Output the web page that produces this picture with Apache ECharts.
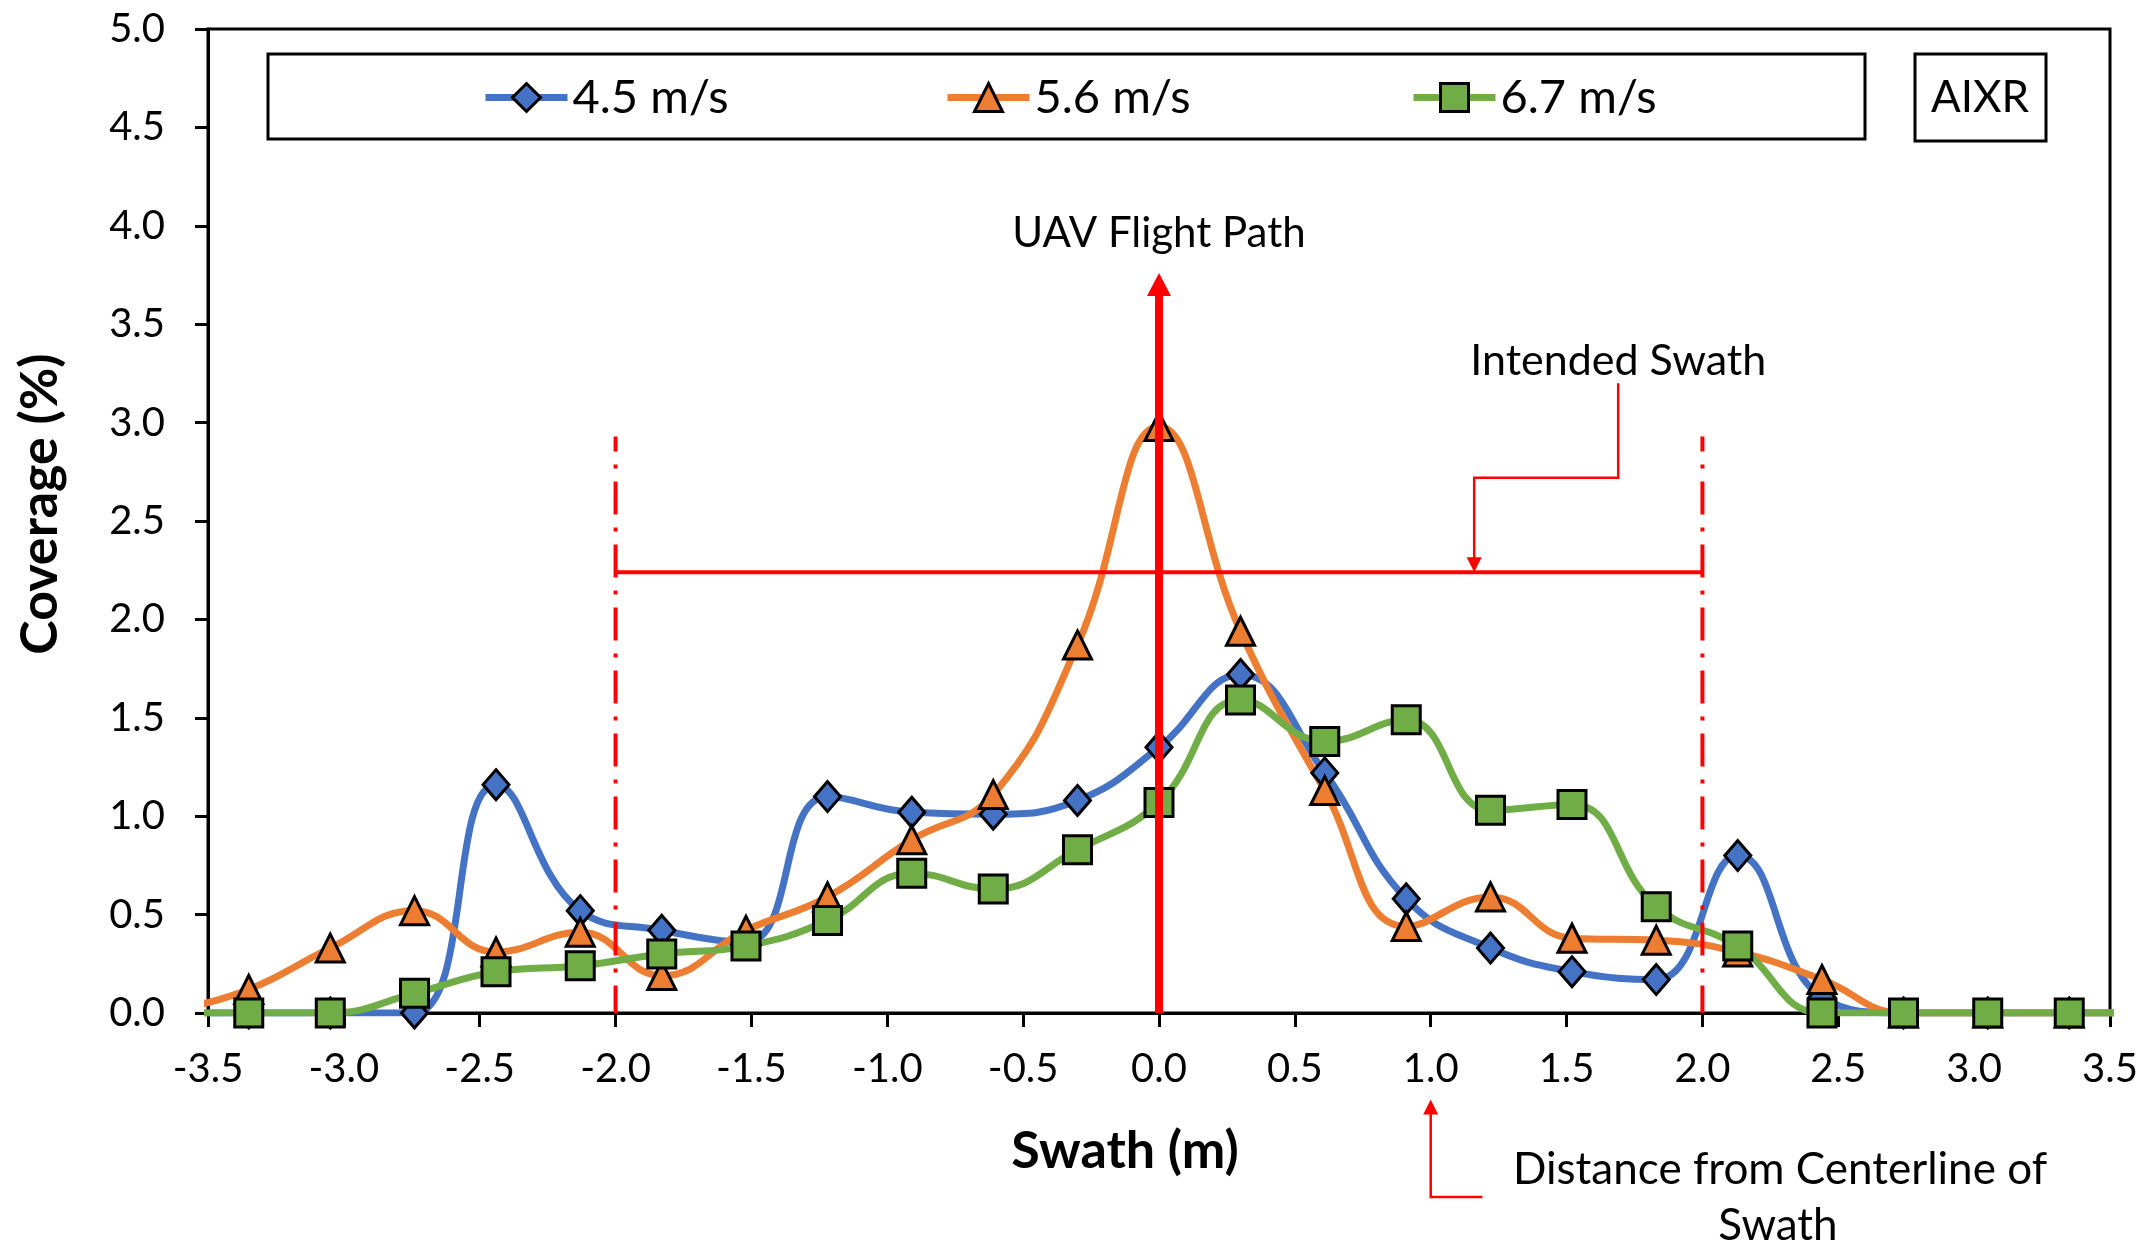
<!DOCTYPE html>
<html>
<head>
<meta charset="utf-8">
<title>Coverage vs Swath - AIXR</title>
<script src="https://cdn.jsdelivr.net/npm/echarts@6/dist/echarts.min.js"></script>
<style>
  html, body { margin: 0; padding: 0; background: #fff; }
  #chart { width: 2146px; height: 1247px; }
</style>
</head>
<body>
<div id="chart"></div>
<script>
// swath positions (m), one foot apart; the outer two sit just past the axis ends
var swath = [-3.66, -3.35, -3.05, -2.74, -2.44, -2.13, -1.83, -1.52, -1.22, -0.91, -0.61, -0.30,
  0.00, 0.30, 0.61, 0.91, 1.22, 1.52, 1.83, 2.13, 2.44, 2.74, 3.05, 3.35, 3.66]
var cov45 = [0, 0, 0, 0, 1.16, 0.52, 0.42, 0.36, 1.10, 1.02, 1.01, 1.08,
  1.35, 1.72, 1.22, 0.58, 0.33, 0.21, 0.17, 0.80, 0.08, 0, 0, 0, 0]
var cov56 = [0, 0.12, 0.33, 0.52, 0.31, 0.41, 0.19, 0.42, 0.59, 0.88, 1.11, 1.87,
  2.98, 1.94, 1.13, 0.44, 0.59, 0.38, 0.37, 0.31, 0.17, 0, 0, 0, 0]
var cov67 = [0, 0, 0, 0.10, 0.21, 0.24, 0.30, 0.34, 0.47, 0.71, 0.63, 0.83,
  1.07, 1.59, 1.38, 1.49, 1.03, 1.06, 0.54, 0.34, 0, 0, 0, 0, 0]
var seriesNames = ['4.5 m/s', '5.6 m/s', '6.7 m/s']

// annotation geometry in data units (x: m, y: %)
var flightPath = [[0, 0], [0, 3.76]]
var swathLeftEdge = [[-2, 2.93], [-2, 0]]
var swathRightEdge = [[2, 2.93], [2, 0]]
var swathBar = [[-2, 2.24], [2, 2.24]]
var swathLeader = [[1.69, 3.20], [1.69, 2.72], [1.16, 2.72], [1.16, 2.24]]
var centerLeader = [[1.19, -0.935], [1.0, -0.935], [1.0, -0.44]]

var FONT = 'Lato, "Open Sans", sans-serif'

function pairs(xs, ys) {
  return xs.map(function (x, i) { return [x, ys[i]] })
}

function mkSeries(name, data, color, symbol, size) {
  return {
    name: name,
    type: 'line',
    data: pairs(swath, data),
    smooth: 0.45,
    clip: true,
    symbol: symbol,
    symbolSize: size,
    showAllSymbol: true,
    lineStyle: { color: color, width: 7 },
    itemStyle: { color: color, borderColor: '#000', borderWidth: 3 }
  }
}

function legendFor(name, left) {
  return {
    data: [name],
    left: left,
    top: 74,
    itemWidth: 82,
    itemHeight: 35,
    itemGap: 0,
    padding: 0,
    lineStyle: { width: 7 },
    itemStyle: { borderWidth: 3, borderColor: '#000' },
    textStyle: { fontFamily: FONT, fontSize: 47, color: '#000' }
  }
}

var chart = echarts.init(document.getElementById('chart'))

chart.setOption({
  animation: false,
  backgroundColor: '#fff',
  grid: {
    left: 208, right: 36, top: 29, bottom: 234,
    show: true, borderColor: '#000', borderWidth: 3
  },
  legend: [
    legendFor(seriesNames[0], 482),
    legendFor(seriesNames[1], 944),
    legendFor(seriesNames[2], 1410)
  ],
  xAxis: {
    type: 'value',
    min: -3.5, max: 3.5, interval: 0.5,
    name: 'Swath (m)',
    nameLocation: 'middle',
    nameGap: 112,
    nameTextStyle: { fontFamily: FONT, fontSize: 52, fontWeight: 'bold', color: '#000', padding: [0, 68, 0, 0] },
    axisLine: { onZero: true, lineStyle: { color: '#000', width: 3 } },
    axisTick: { show: true, length: 14, lineStyle: { color: '#000', width: 3 } },
    axisLabel: {
      margin: 36, fontFamily: FONT, fontSize: 40, color: '#000',
      formatter: function (v) { return v.toFixed(1) }
    },
    splitLine: { show: false }
  },
  yAxis: {
    type: 'value',
    min: 0, max: 5, interval: 0.5,
    name: 'Coverage (%)',
    nameLocation: 'middle',
    nameGap: 142,
    nameTextStyle: { fontFamily: FONT, fontSize: 52, fontWeight: 'bold', color: '#000', padding: [0, 0, 0, 34] },
    axisLine: { show: true, onZero: false, lineStyle: { color: '#000', width: 3 } },
    axisTick: { show: true, length: 13, lineStyle: { color: '#000', width: 3 } },
    axisLabel: {
      margin: 43, fontFamily: FONT, fontSize: 40, color: '#000',
      formatter: function (v) { return v.toFixed(1) }
    },
    splitLine: { show: false }
  },
  series: [
    mkSeries(seriesNames[0], cov45, '#4472C4', 'diamond', [26, 30]),
    mkSeries(seriesNames[1], cov56, '#ED7D31', 'triangle', 28),
    mkSeries(seriesNames[2], cov67, '#70AD47', 'rect', 28)
  ]
})

// --- annotations, placed through the grid's own coordinate system ---
function px(p) { return chart.convertToPixel({ gridIndex: 0 }, p) }
function pxList(list) { return list.map(px) }

function arrowHead(tip, from, len, half) {
  var dx = tip[0] - from[0], dy = tip[1] - from[1]
  var d = Math.sqrt(dx * dx + dy * dy)
  var ux = dx / d, uy = dy / d
  var bx = tip[0] - ux * len, by = tip[1] - uy * len
  return [tip, [bx - uy * half, by + ux * half], [bx + uy * half, by - ux * half]]
}
function shortened(pts, len) {
  var out = pts.slice()
  var a = out[out.length - 2], b = out[out.length - 1]
  var dx = b[0] - a[0], dy = b[1] - a[1]
  var d = Math.sqrt(dx * dx + dy * dy)
  out[out.length - 1] = [b[0] - dx / d * len, b[1] - dy / d * len]
  return out
}

var RED = '#FF0000'
var fp = pxList(flightPath)
var sl = pxList(swathLeader)
var cl = pxList(centerLeader)

var graphics = [
  // legend frame and AIXR tag
  { type: 'rect', shape: { x: 268, y: 54, width: 1597, height: 85 },
    style: { fill: null, stroke: '#000', lineWidth: 3 }, z: 100 },
  { type: 'rect', shape: { x: 1915, y: 54, width: 131, height: 87 },
    style: { fill: null, stroke: '#000', lineWidth: 3 }, z: 100 },
  { type: 'text', x: 1980, y: 98, z: 100,
    style: { text: 'AIXR', font: '44px ' + FONT, fill: '#000', align: 'center', verticalAlign: 'middle' } },

  // swath edges and bar
  { type: 'polyline', z: 100, shape: { points: pxList(swathLeftEdge) },
    style: { stroke: RED, lineWidth: 4, lineDash: [33, 13, 4, 13], lineDashOffset: 18, fill: null } },
  { type: 'polyline', z: 100, shape: { points: pxList(swathRightEdge) },
    style: { stroke: RED, lineWidth: 4, lineDash: [33, 13, 4, 13], lineDashOffset: 18, fill: null } },
  { type: 'polyline', z: 100, shape: { points: pxList(swathBar) },
    style: { stroke: RED, lineWidth: 4, fill: null } },

  // UAV flight path arrow
  { type: 'polyline', z: 101, shape: { points: shortened(fp, 20) },
    style: { stroke: RED, lineWidth: 8, fill: null } },
  { type: 'polygon', z: 101, shape: { points: arrowHead(fp[1], fp[0], 23, 12) },
    style: { fill: RED } },
  { type: 'text', x: fp[1][0], y: 233, z: 100,
    style: { text: 'UAV Flight Path', font: '42px ' + FONT, fill: '#000', align: 'center', verticalAlign: 'middle' } },

  // intended swath leader
  { type: 'polyline', z: 100, shape: { points: shortened(sl, 12) },
    style: { stroke: RED, lineWidth: 2.5, fill: null } },
  { type: 'polygon', z: 100, shape: { points: arrowHead(sl[3], sl[2], 15, 7.5) },
    style: { fill: RED } },
  { type: 'text', x: sl[0][0], y: 361, z: 100,
    style: { text: 'Intended Swath', font: '43px ' + FONT, fill: '#000', align: 'center', verticalAlign: 'middle' } },

  // centerline distance leader
  { type: 'polyline', z: 100, shape: { points: shortened(cl, 12) },
    style: { stroke: RED, lineWidth: 2.5, fill: null } },
  { type: 'polygon', z: 100, shape: { points: arrowHead(cl[2], cl[1], 15, 7.5) },
    style: { fill: RED } },
  { type: 'text', x: 1780, y: 1170, z: 100,
    style: { text: 'Distance from Centerline of', font: '44px ' + FONT, fill: '#000', align: 'center', verticalAlign: 'middle' } },
  { type: 'text', x: 1778, y: 1226, z: 100,
    style: { text: 'Swath', font: '44px ' + FONT, fill: '#000', align: 'center', verticalAlign: 'middle' } }
]

chart.setOption({ graphic: graphics })
</script>
</body>
</html>
